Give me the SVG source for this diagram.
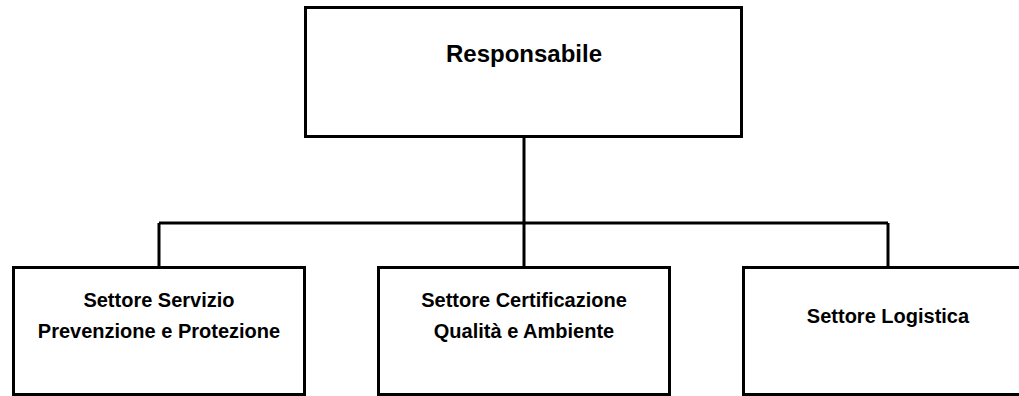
<svg xmlns="http://www.w3.org/2000/svg" width="1019" height="396" viewBox="0 0 1019 396">
<style>
.box{fill:#fff;stroke:#000;stroke-width:3}
.conn{fill:none;stroke:#000;stroke-width:3}
.t{font-family:"Liberation Sans",Arial,sans-serif;font-weight:bold;fill:#000;text-anchor:middle}
</style>
<rect width="1019" height="396" fill="#fff"/>
<g id="connectors">
<path class="conn" d="M524,137 V223 M159,223 H888 M159,223 V267 M524,223 V267 M888,223 V267"/>
</g>
<g id="responsabile">
<rect class="box" x="305.5" y="7.5" width="436" height="129"/>
<text class="t" x="524" y="62" font-size="24">Responsabile</text>
</g>
<g id="spp">
<rect class="box" x="13.5" y="267.5" width="291" height="127"/>
<text class="t" x="159" y="307" font-size="20">Settore Servizio</text>
<text class="t" x="159" y="338" font-size="20">Prevenzione e Protezione</text>
</g>
<g id="cqa">
<rect class="box" x="378.5" y="267.5" width="291" height="127"/>
<text class="t" x="524" y="307" font-size="20">Settore Certificazione</text>
<text class="t" x="524" y="338" font-size="20">Qualità e Ambiente</text>
</g>
<g id="logistica">
<rect class="box" x="743.5" y="267.5" width="291" height="127"/>
<text class="t" x="888" y="323" font-size="20">Settore Logistica</text>
</g>
</svg>
